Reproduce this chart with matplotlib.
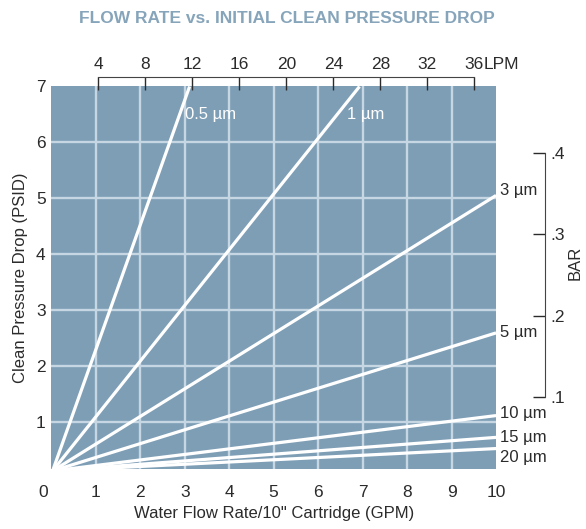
import matplotlib
matplotlib.use("Agg")
import matplotlib.pyplot as plt
import matplotlib.transforms as mtrans
import numpy as np

plt.rcParams['font.family'] = ['Liberation Sans', 'DejaVu Sans']

# data
micron_labels = ["0.5 µm", "1 µm", "3 µm", "5 µm", "10 µm", "15 µm", "20 µm"]
start_gpm = 0.03
start_psid = 0.12
end_gpm = [3.11, 6.93, 10, 10, 10, 10, 10]
end_psid = [7.0, 7.0, 5.05, 2.59, 1.11, 0.72, 0.52]

gpm_ticks = list(range(0, 11))
psid_ticks = list(range(1, 8))
lpm_ticks = [4, 8, 12, 16, 20, 24, 28, 32, 36]
bar_ticks = [0.1, 0.2, 0.3, 0.4]
bar_ticklabels = [".1", ".2", ".3", ".4"]

LPM_PER_GPM = 3.78541
PSI_PER_BAR = 14.5038

bg = "#7e9eb6"
grid_c = "#c6d6e2"
txt = "#2b2b2b"

fig = plt.figure(figsize=(5.86, 5.29), dpi=100)
ax = fig.add_axes([0.0875, 0.113, 0.759, 0.7235])
ax.set_facecolor(bg)
ax.set_xlim(0, 10)
ax.set_ylim(0.15, 7)
for s in ax.spines.values():
    s.set_visible(False)

ax.set_xticks(gpm_ticks)
ax.set_yticks(psid_ticks)
ax.tick_params(axis='both', length=0, labelsize=12.5, colors=txt)
ax.tick_params(axis='x', pad=11)
ax.tick_params(axis='y', pad=4)
# the "0" sits a little left of the corner in the original
zero = ax.get_xticklabels()[0]
zero.set_transform(zero.get_transform() + mtrans.ScaledTranslation(-8 / 100, 0, fig.dpi_scale_trans))

for v in range(1, 10):
    ax.axvline(v, color=grid_c, lw=1.7, zorder=1)
for v in range(1, 7):
    ax.axhline(v, color=grid_c, lw=1.7, zorder=1)

for x1, y1 in zip(end_gpm, end_psid):
    ax.plot([start_gpm, x1], [start_psid, y1], color="white", lw=2.3,
            solid_capstyle='butt', zorder=3)

# labels: inside for the steep ones, right of the frame for the rest
ax.text(3.0, 6.49, micron_labels[0], color="white", fontsize=12, va='center', ha='left')
ax.text(6.65, 6.49, micron_labels[1], color="white", fontsize=12, va='center', ha='left')
label_shift = [0, 0, 0.09, 0.0, 0.03, 0.0, -0.16]
for i in range(2, 7):
    ax.text(10.08, end_psid[i] + label_shift[i], micron_labels[i], color=txt,
            fontsize=12, va='center', ha='left', clip_on=False)

ax.set_xlabel('Water Flow Rate/10" Cartridge (GPM)', fontsize=12, color=txt, labelpad=5)
ax.set_ylabel('Clean Pressure Drop (PSID)', fontsize=12, color=txt, labelpad=6)

# LPM bracket on top
top_loc = 1.024
top = ax.secondary_xaxis(top_loc, functions=(lambda g: g * LPM_PER_GPM,
                                             lambda l: l / LPM_PER_GPM))
top.set_xticks(lpm_ticks)
top.tick_params(direction='in', length=9, width=1, colors=txt, labelsize=12.5, pad=4)
for k, s in top.spines.items():
    s.set_visible(k == 'top')
top.spines['top'].set_bounds(lpm_ticks[0], lpm_ticks[-1])
top.spines['top'].set_color("#444444")
lpm_tr = mtrans.offset_copy(ax.get_xaxis_transform(), fig=fig, x=7, y=4, units='points')
ax.text(lpm_ticks[-1] / LPM_PER_GPM, top_loc, "LPM", transform=lpm_tr,
        fontsize=12.5, color=txt, ha='left', va='bottom', clip_on=False)

# BAR bracket on the right
right = ax.secondary_yaxis(1.11, functions=(lambda p: p / PSI_PER_BAR,
                                            lambda b: b * PSI_PER_BAR))
right.set_yticks(bar_ticks)
right.set_yticklabels(bar_ticklabels)
right.tick_params(direction='in', length=9, width=1, colors=txt, labelsize=12.5, pad=4)
for k, s in right.spines.items():
    s.set_visible(k == 'right')
right.spines['right'].set_bounds(bar_ticks[0], bar_ticks[-1])
right.spines['right'].set_color("#444444")
right.set_ylabel("BAR", fontsize=12, color=txt, labelpad=2)
right.yaxis.label.set_position((0, 0.54))

fig.text(0.49, 0.965, "FLOW RATE vs. INITIAL CLEAN PRESSURE DROP", color="#86a4ba",
         fontsize=12.5, fontweight='bold', ha='center', va='center')

fig.savefig("out.png", dpi=100)
